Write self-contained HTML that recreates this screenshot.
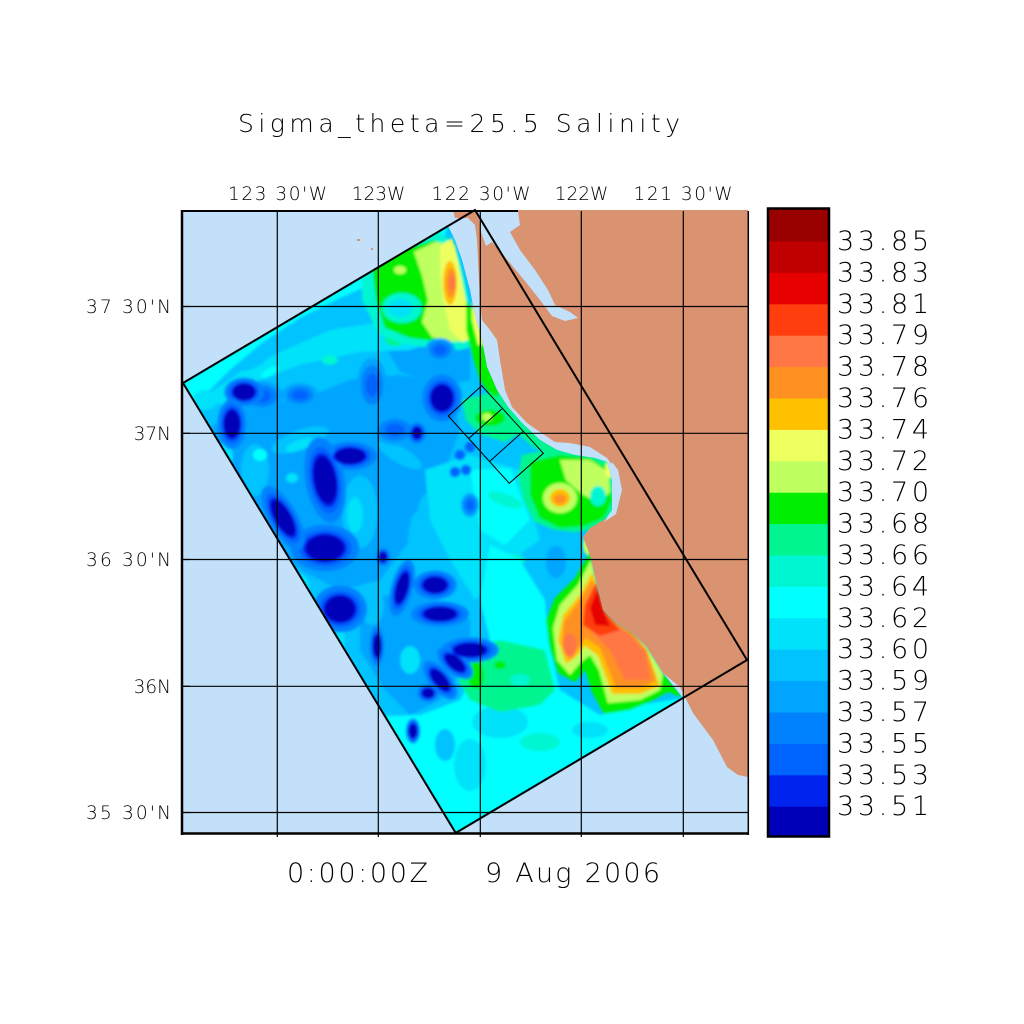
<!DOCTYPE html>
<html>
<head>
<meta charset="utf-8">
<style>
html,body{margin:0;padding:0;background:#fff;}
svg{display:block;}
text{font-family:"DejaVu Sans","Liberation Sans",sans-serif;font-weight:200;fill:#000;}
</style>
</head>
<body>
<svg width="1024" height="1024" viewBox="0 0 1024 1024" xmlns="http://www.w3.org/2000/svg">
<defs>
  <clipPath id="fc">
    <polygon points="183,383 448,226 455,240 462,260 470,290 476,320 482,340 487,367 497,390 508,407 522,423 540,440 557,450 575,455 595,458 607,462 612,480 612,510 605,520 590,528 583,537 590,555 596,580 603,610 617,623 633,633 647,647 663,673 683,698 455.7,833"/>
  </clipPath>
  <filter id="bl" x="-5%" y="-5%" width="110%" height="110%"><feGaussianBlur stdDeviation="1.4"/></filter>
  <g id="eh"><circle r="1.8" fill="#0082ff"/><circle r="1.4" fill="#0064ff"/></g>
  <g id="ec"><circle r="1.15" fill="#0023ee"/><circle r="1" fill="#0000b9"/></g>
  <g id="eb"><circle r="1.5" fill="#00a5ff"/><circle r="1.1" fill="#0082ff"/><circle r="0.65" fill="#0064ff"/></g>
</defs>

<rect x="182" y="211" width="566" height="623" fill="#c2e0fa"/>

<g clip-path="url(#fc)">
  <rect x="180" y="205" width="520" height="630" fill="#00c3ff"/>
  <g filter="url(#bl)">
    <polygon fill="#00a5ff" points="205,430 250,405 300,400 350,380 400,375 450,385 460,430 445,470 420,500 410,540 380,580 340,590 300,570 265,540 235,500 215,465"/>
    <polygon fill="#00a5ff" points="360,600 420,590 470,620 470,660 440,700 410,715 385,690 360,650"/>
    <polygon fill="#00a5ff" points="380,338 430,333 470,345 470,380 440,387 400,372"/>
    <ellipse cx="300" cy="440" rx="30" ry="10" fill="#00c3ff" transform="rotate(-20 300 440)"/>
    <ellipse cx="360" cy="512" rx="18" ry="36" fill="#00c3ff"/>
    <ellipse cx="255" cy="470" rx="14" ry="26" fill="#00c3ff"/>
    <ellipse cx="400" cy="455" rx="25" ry="8" fill="#00c3ff" transform="rotate(30 400 455)"/>
    <ellipse cx="420" cy="540" rx="12" ry="30" fill="#00c3ff"/>
    <ellipse cx="372" cy="605" rx="12" ry="20" fill="#00c3ff"/>
    <ellipse cx="355" cy="515" rx="8" ry="18" fill="#00e1fa"/>
    <ellipse cx="300" cy="445" rx="15" ry="5" fill="#00e1fa" transform="rotate(-20 300 445)"/>
    <ellipse cx="260" cy="455" rx="7" ry="6" fill="#00ffff"/>
    <ellipse cx="292" cy="478" rx="6" ry="5" fill="#00e1fa"/>
    <ellipse cx="410" cy="660" rx="10" ry="14" fill="#00e1fa"/>
    <ellipse cx="330" cy="640" rx="15" ry="25" fill="#00e1fa"/>
    <ellipse cx="300" cy="590" rx="10" ry="16" fill="#00e1fa"/>
    <ellipse cx="225" cy="455" rx="8" ry="12" fill="#00e1fa"/>
    <polygon fill="#00ffff" points="183,383 448,226 440,250 400,268 370,285 340,298 300,318 262,343 232,368 208,392 196,410"/>
    <polygon fill="#00e1fa" points="200,400 240,372 280,352 330,330 380,322 420,333 440,340 410,350 360,352 300,365 260,380 225,405"/>
    <ellipse cx="300" cy="330" rx="22" ry="8" fill="#00c3ff" transform="rotate(-25 300 330)"/>
    <ellipse cx="255" cy="360" rx="18" ry="7" fill="#00c3ff" transform="rotate(-30 255 360)"/>
    <ellipse cx="330" cy="360" rx="8" ry="5" fill="#00f5d2"/>
    <ellipse cx="395" cy="340" rx="10" ry="6" fill="#00f590"/>
    <ellipse cx="205" cy="400" rx="12" ry="10" fill="#00e1fa"/>
    <ellipse cx="270" cy="372" rx="10" ry="4" fill="#00ffff" transform="rotate(-30 270 372)"/>
    <polygon fill="#00e1fa" points="425,470 470,455 520,470 540,540 505,565 475,600 450,560 430,520"/>
    <polygon fill="#00ffff" points="470,470 510,468 530,520 505,545 480,530"/>
    <ellipse cx="505" cy="500" rx="18" ry="6" fill="#00f5d2" transform="rotate(20 505 500)"/>
    <ellipse cx="520" cy="600" rx="20" ry="8" fill="#00f5d2"/>
    <ellipse cx="510" cy="560" rx="15" ry="6" fill="#00f5d2"/>
    <polygon fill="#00ffff" points="455.7,833 683,698 640,705 600,715 560,690 548,640 545,600 520,560 490,545 480,600 490,640 460,700 420,715 385,716"/>
    <ellipse cx="500" cy="722" rx="28" ry="16" fill="#00e1fa"/>
    <ellipse cx="470" cy="765" rx="16" ry="26" fill="#00e1fa"/>
    <ellipse cx="445" cy="745" rx="10" ry="16" fill="#00c3ff"/>
    <ellipse cx="540" cy="742" rx="20" ry="9" fill="#00f5d2"/>
    <ellipse cx="590" cy="730" rx="18" ry="8" fill="#00e1fa"/>
    <ellipse cx="556" cy="562" rx="10" ry="16" fill="#00a5ff"/>
    <polygon fill="#00f590" points="465,650 500,640 545,650 555,690 540,705 500,712 470,700 458,680"/>
    <ellipse cx="476" cy="675" rx="8" ry="14" fill="#00ee00"/>
    <ellipse cx="520" cy="680" rx="10" ry="6" fill="#00f5d2"/>
    <ellipse cx="500" cy="665" rx="6" ry="4" fill="#00ee00"/>
    <polygon fill="#00f590" points="488,380 500,392 512,407 525,420 542,437 558,448 550,455 533,447 516,432 503,416 492,400"/>
    <polygon fill="#00f5d2" points="362,262 400,245 440,232 455,245 465,280 472,320 478,345 460,350 430,348 400,343 378,333 362,300"/>
    <polygon fill="#00ee00" points="372,265 400,250 435,240 450,260 458,300 464,338 440,342 410,338 385,328 376,300"/>
    <ellipse cx="402" cy="308" rx="20" ry="15" fill="#00f5d2"/>
    <ellipse cx="400" cy="308" rx="12" ry="9" fill="#00e1fa"/>
    <ellipse cx="400" cy="270" rx="6" ry="4" fill="#c0ff60"/>
    <polygon fill="#c0ff60" points="414,252 435,242 455,245 462,300 470,340 450,342 432,337 422,322 428,300 422,275"/>
    <polygon fill="#eeff60" points="440,246 452,238 458,260 466,300 474,338 462,342 450,330 443,300 440,270"/>
    <ellipse cx="450" cy="283" rx="7" ry="22" fill="#ffc000"/>
    <ellipse cx="451" cy="283" rx="5" ry="15" fill="#ff9122"/>
    <ellipse cx="452" cy="283" rx="3" ry="8" fill="#ff7744"/>
    <polygon fill="#00ee00" points="466,300 478,320 486,345 491,370 500,392 494,400 480,380 472,355 466,330"/>
    <polygon fill="#eeff60" points="472,300 478,318 483,345 478,345 472,320"/>
    <polygon fill="#00f590" points="462,400 490,393 512,410 522,432 505,442 480,434 466,420"/>
    <ellipse cx="490" cy="418" rx="15" ry="8" fill="#00ee00"/>
    <ellipse cx="487" cy="417" rx="5" ry="4" fill="#c0ff60"/>
    <polygon fill="#00f590" points="522,455 557,448 575,453 595,456 610,462 614,480 614,510 606,522 590,530 575,532 555,530 535,522 523,500 518,475"/>
    <polygon fill="#00ee00" points="530,462 560,455 590,458 607,468 612,500 604,518 585,526 560,528 540,518 530,495"/>
    <polygon fill="#c0ff60" points="560,460 590,460 608,472 610,492 598,503 582,494 566,480"/>
    <ellipse cx="598" cy="496" rx="8" ry="10" fill="#00f5d2"/>
    <ellipse cx="560" cy="498" rx="17" ry="15" fill="#c0ff60"/>
    <ellipse cx="560" cy="498" rx="10" ry="9" fill="#ffc000"/>
    <ellipse cx="560" cy="499" rx="6" ry="5" fill="#ff9122"/>
    <ellipse cx="609" cy="470" rx="4" ry="8" fill="#eeff60"/>
    <ellipse cx="588" cy="545" rx="5" ry="10" fill="#c0ff60"/>
    <polygon fill="#00ee00" points="590,552 575,578 555,598 546,620 550,650 558,673 575,682 585,670 592,692 604,714 630,710 650,702 668,692 683,698 663,673 647,647 633,633 617,623 603,610 596,580"/>
    <polygon fill="#c0ff60" points="591,560 578,585 560,605 553,628 557,660 570,675 580,663 590,655 599,670 608,703 640,700 660,690 663,673 647,647 633,633 617,623 603,610 596,580"/>
    <polygon fill="#ffc000" points="592,572 580,595 563,615 558,640 566,664 576,657 585,646 598,656 612,694 640,694 660,686 647,650 633,633 617,623 603,610 597,585"/>
    <polygon fill="#ff9122" points="592,580 580,600 564,622 562,645 570,660 578,648 586,638 600,648 616,688 640,688 656,681 647,650 633,633 617,623 603,610 597,590"/>
    <polygon fill="#ff7744" points="594,588 585,610 590,630 610,650 625,680 650,680 645,652 630,635 615,625 603,612"/>
    <ellipse cx="570" cy="645" rx="7" ry="12" fill="#ff7744"/>
    <polygon fill="#ff3d0d" points="596,583 585,605 583,625 600,636 620,630 605,612"/>
    <polygon fill="#e60000" points="597,590 590,608 595,625 610,626 603,610"/>
    <use href="#eb" transform="translate(300,395) scale(12,8)"/>
    <use href="#eb" transform="translate(262,396) scale(14,10)"/>
    <use href="#eb" transform="translate(395,430) scale(15,10)"/>
    <use href="#eb" transform="translate(372,385) scale(10,18)"/>
    <use href="#eb" transform="translate(215,480) scale(8,15)"/>
    <use href="#eb" transform="translate(470,505) scale(6,8)"/>
    <use href="#eb" transform="translate(440,350) scale(10,8)"/>
    <use href="#eh" transform="translate(244,392) scale(11,8)"/>
    <use href="#eh" transform="translate(232,424) scale(8,14)"/>
    <use href="#eh" transform="translate(350,456) scale(15,8)"/>
    <use href="#eh" transform="translate(325,480) rotate(-10) scale(11,24)"/>
    <use href="#eh" transform="translate(325,548) scale(19,13)"/>
    <use href="#eh" transform="translate(283,518) rotate(-30) scale(8,20)"/>
    <use href="#eh" transform="translate(442,398) scale(11,13)"/>
    <use href="#eh" transform="translate(417,433) scale(5,6)"/>
    <use href="#eh" transform="translate(383,557) scale(4,5)"/>
    <use href="#eh" transform="translate(402,588) rotate(15) scale(6,16)"/>
    <use href="#eh" transform="translate(435,585) scale(12,8)"/>
    <use href="#eh" transform="translate(340,609) scale(15,13)"/>
    <use href="#eh" transform="translate(440,614) scale(16,7)"/>
    <use href="#eh" transform="translate(377,646) scale(4,11)"/>
    <use href="#eh" transform="translate(470,650) scale(16,7)"/>
    <use href="#eh" transform="translate(455,663) rotate(-50) scale(6,12)"/>
    <use href="#eh" transform="translate(440,680) rotate(-40) scale(6,13)"/>
    <use href="#eh" transform="translate(428,693) scale(6,5)"/>
    <use href="#eh" transform="translate(413,731) scale(4,7)"/>
    <use href="#eh" transform="translate(460,455) scale(3,3)"/>
    <use href="#eh" transform="translate(466,470) scale(3,3)"/>
    <use href="#eh" transform="translate(455,472) scale(3,3)"/>
    <use href="#eh" transform="translate(470,447) scale(3,3)"/>
    <use href="#ec" transform="translate(244,392) scale(11,8)"/>
    <use href="#ec" transform="translate(232,424) scale(8,14)"/>
    <use href="#ec" transform="translate(350,456) scale(15,8)"/>
    <use href="#ec" transform="translate(325,480) rotate(-10) scale(11,24)"/>
    <use href="#ec" transform="translate(325,548) scale(19,13)"/>
    <use href="#ec" transform="translate(283,518) rotate(-30) scale(8,20)"/>
    <use href="#ec" transform="translate(442,398) scale(11,13)"/>
    <use href="#ec" transform="translate(417,433) scale(5,6)"/>
    <use href="#ec" transform="translate(383,557) scale(4,5)"/>
    <use href="#ec" transform="translate(402,588) rotate(15) scale(6,16)"/>
    <use href="#ec" transform="translate(435,585) scale(12,8)"/>
    <use href="#ec" transform="translate(340,609) scale(15,13)"/>
    <use href="#ec" transform="translate(440,614) scale(16,7)"/>
    <use href="#ec" transform="translate(377,646) scale(4,11)"/>
    <use href="#ec" transform="translate(470,650) scale(16,7)"/>
    <use href="#ec" transform="translate(455,663) rotate(-50) scale(6,12)"/>
    <use href="#ec" transform="translate(440,680) rotate(-40) scale(6,13)"/>
    <use href="#ec" transform="translate(428,693) scale(6,5)"/>
    <use href="#ec" transform="translate(413,731) scale(4,7)"/>
  </g>
</g>

<polygon fill="#d99370" points="453,210 748,210 748,777 738,775 727,767 713,740 693,713 680,687 663,673 647,647 633,633 617,623 603,610 596,580 590,555 583,537 590,528 600,522 614,514 620,490 616,470 607,458 590,447 570,443 555,442 540,432 527,423 512,407 505,390 500,360 497,340 490,330 482,320 480,300 478,260 477,240 475,225 468,218 455,218"/>
<polygon fill="#c2e0fa" points="478,212 518,212 520,225 510,232 520,250 535,270 548,290 555,305 570,312 578,318 565,321 552,316 540,300 525,281 510,263 500,251 492,242 486,246 481,232"/>
<polygon fill="#c2e0fa" points="612,462 618,470 622,490 616,514 604,522 612,512 614,490 610,470"/>
<rect x="357" y="239" width="3" height="2" fill="#d99370"/>
<rect x="371" y="248" width="2" height="2" fill="#d99370"/>

<g stroke="#000" stroke-width="1.2">
  <line x1="277.3" y1="211" x2="277.3" y2="837"/>
  <line x1="378.3" y1="211" x2="378.3" y2="837"/>
  <line x1="480.3" y1="211" x2="480.3" y2="837"/>
  <line x1="581.3" y1="211" x2="581.3" y2="837"/>
  <line x1="683.3" y1="211" x2="683.3" y2="837"/>
  <line x1="182" y1="306.5" x2="748" y2="306.5"/>
  <line x1="182" y1="433.3" x2="748" y2="433.3"/>
  <line x1="182" y1="559.5" x2="748" y2="559.5"/>
  <line x1="182" y1="686.3" x2="748" y2="686.3"/>
  <line x1="182" y1="812.5" x2="748" y2="812.5"/>
</g>

<polygon points="183,383 475,210 747,660 455.7,833" fill="none" stroke="#000" stroke-width="2"/>
<g fill="none" stroke="#000" stroke-width="1">
  <polygon points="448.3,416 481.7,385.7 543.3,453.3 509.3,483.3"/>
  <line x1="501.7" y1="409" x2="469" y2="438.3"/>
  <line x1="522.7" y1="431.7" x2="489.3" y2="461.7"/>
</g>

<g stroke="#000" fill="none">
  <line x1="182" y1="211" x2="518" y2="211" stroke-width="2"/>
  <line x1="182" y1="210" x2="182" y2="835" stroke-width="2.5"/>
  <line x1="181" y1="833.5" x2="749" y2="833.5" stroke-width="2.5"/>
  <line x1="748.3" y1="211" x2="748.3" y2="835" stroke-width="1.5"/>
</g>

<g>
  <rect x="768" y="208" width="61" height="34" fill="#990000"/>
  <rect x="768" y="241.5" width="61" height="31.9" fill="#c00000"/>
  <rect x="768" y="272.9" width="61" height="31.9" fill="#e60000"/>
  <rect x="768" y="304.3" width="61" height="31.9" fill="#ff3d0d"/>
  <rect x="768" y="335.7" width="61" height="31.9" fill="#ff7744"/>
  <rect x="768" y="367.1" width="61" height="31.9" fill="#ff9122"/>
  <rect x="768" y="398.5" width="61" height="31.9" fill="#ffc000"/>
  <rect x="768" y="429.9" width="61" height="31.9" fill="#eeff60"/>
  <rect x="768" y="461.3" width="61" height="31.9" fill="#c0ff60"/>
  <rect x="768" y="492.7" width="61" height="31.9" fill="#00ee00"/>
  <rect x="768" y="524.1" width="61" height="31.9" fill="#00f590"/>
  <rect x="768" y="555.5" width="61" height="31.9" fill="#00f5d2"/>
  <rect x="768" y="586.9" width="61" height="31.9" fill="#00ffff"/>
  <rect x="768" y="618.3" width="61" height="31.9" fill="#00e1fa"/>
  <rect x="768" y="649.7" width="61" height="31.9" fill="#00c3ff"/>
  <rect x="768" y="681.1" width="61" height="31.9" fill="#00a5ff"/>
  <rect x="768" y="712.5" width="61" height="31.9" fill="#0082ff"/>
  <rect x="768" y="743.9" width="61" height="31.9" fill="#0064ff"/>
  <rect x="768" y="775.3" width="61" height="31.9" fill="#0023ee"/>
  <rect x="768" y="806.7" width="61" height="29.8" fill="#0000b9"/>
  <rect x="768" y="208.5" width="61" height="628" fill="none" stroke="#000" stroke-width="2.5"/>
</g>

<g font-size="27">
  <text x="837" y="250" textLength="92" lengthAdjust="spacing">33.85</text>
  <text x="837" y="281.4" textLength="92" lengthAdjust="spacing">33.83</text>
  <text x="837" y="312.8" textLength="92" lengthAdjust="spacing">33.81</text>
  <text x="837" y="344.2" textLength="92" lengthAdjust="spacing">33.79</text>
  <text x="837" y="375.6" textLength="92" lengthAdjust="spacing">33.78</text>
  <text x="837" y="407" textLength="92" lengthAdjust="spacing">33.76</text>
  <text x="837" y="438.4" textLength="92" lengthAdjust="spacing">33.74</text>
  <text x="837" y="469.8" textLength="92" lengthAdjust="spacing">33.72</text>
  <text x="837" y="501.2" textLength="92" lengthAdjust="spacing">33.70</text>
  <text x="837" y="532.6" textLength="92" lengthAdjust="spacing">33.68</text>
  <text x="837" y="564" textLength="92" lengthAdjust="spacing">33.66</text>
  <text x="837" y="595.4" textLength="92" lengthAdjust="spacing">33.64</text>
  <text x="837" y="626.8" textLength="92" lengthAdjust="spacing">33.62</text>
  <text x="837" y="658.2" textLength="92" lengthAdjust="spacing">33.60</text>
  <text x="837" y="689.6" textLength="92" lengthAdjust="spacing">33.59</text>
  <text x="837" y="721" textLength="92" lengthAdjust="spacing">33.57</text>
  <text x="837" y="752.4" textLength="92" lengthAdjust="spacing">33.55</text>
  <text x="837" y="783.8" textLength="92" lengthAdjust="spacing">33.53</text>
  <text x="837" y="815.2" textLength="92" lengthAdjust="spacing">33.51</text>
</g>

<text x="238" y="132" font-size="25" textLength="442" lengthAdjust="spacing">Sigma_theta=25.5 Salinity</text>

<g font-size="18.5" text-anchor="middle">
  <text x="277.5" y="200" textLength="99" lengthAdjust="spacing">123 30'W</text>
  <text x="378.5" y="200">123W</text>
  <text x="481" y="200" textLength="99" lengthAdjust="spacing">122 30'W</text>
  <text x="581.5" y="200">122W</text>
  <text x="683" y="200" textLength="99" lengthAdjust="spacing">121 30'W</text>
</g>

<g font-size="18.5" text-anchor="end">
  <text x="171" y="313" textLength="85" lengthAdjust="spacing">37 30'N</text>
  <text x="171" y="440">37N</text>
  <text x="171" y="566" textLength="85" lengthAdjust="spacing">36 30'N</text>
  <text x="171" y="693">36N</text>
  <text x="171" y="819" textLength="85" lengthAdjust="spacing">35 30'N</text>
</g>
<g stroke="#000" stroke-width="1.2">
  <line x1="182" y1="306.5" x2="190" y2="306.5"/>
  <line x1="182" y1="433.3" x2="190" y2="433.3"/>
  <line x1="182" y1="559.5" x2="190" y2="559.5"/>
  <line x1="182" y1="686.3" x2="190" y2="686.3"/>
  <line x1="182" y1="812.5" x2="190" y2="812.5"/>
</g>

<text x="287" y="882" font-size="27" textLength="141" lengthAdjust="spacing">0:00:00Z</text>
<text x="485" y="882" font-size="27" textLength="175" lengthAdjust="spacing">9 Aug 2006</text>
</svg>
</body>
</html>
